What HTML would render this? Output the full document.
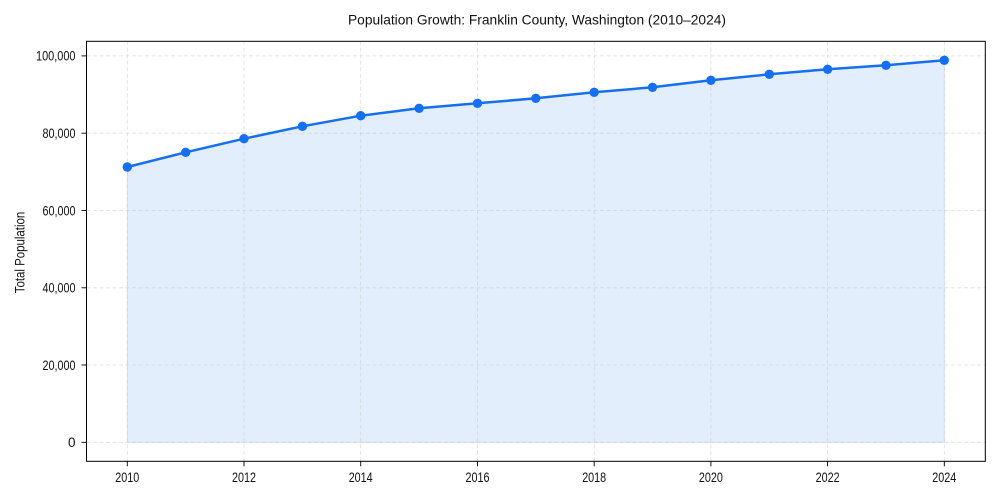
<!DOCTYPE html>
<html><head><meta charset="utf-8"><style>
html,body{margin:0;padding:0;background:#fff;}
svg{display:block;}
text{font-family:"Liberation Sans",Arial,sans-serif;fill:#111;}
</style></head><body>
<svg width="1000" height="500" viewBox="0 0 1000 500" xmlns="http://www.w3.org/2000/svg">
<rect width="1000" height="500" fill="#fff"/>
<polygon fill="#e3eefd" stroke="#cddcf0" stroke-width="0.8" points="127.3,167 185.7,152.3 244,138.7 302.4,126.3 360.7,115.7 419.1,108.3 477.5,103.3 535.8,98.3 594.2,92.3 652.5,87.3 710.9,80.3 769.3,74.3 827.6,69.3 886,65.3 944.3,60.3 944.3,442.3 127.3,442.3"/>
<g stroke="#c8c8c8" stroke-opacity="0.6" stroke-width="0.8" stroke-dasharray="4,2.5" fill="none">
<line x1="86.5" x2="985.3" y1="442.3" y2="442.3"/>
<line x1="86.5" x2="985.3" y1="365" y2="365"/>
<line x1="86.5" x2="985.3" y1="287.8" y2="287.8"/>
<line x1="86.5" x2="985.3" y1="210.5" y2="210.5"/>
<line x1="86.5" x2="985.3" y1="133.2" y2="133.2"/>
<line x1="86.5" x2="985.3" y1="55.9" y2="55.9"/>
<line y1="41.3" y2="461.3" x1="127.3" x2="127.3"/>
<line y1="41.3" y2="461.3" x1="244" x2="244"/>
<line y1="41.3" y2="461.3" x1="360.7" x2="360.7"/>
<line y1="41.3" y2="461.3" x1="477.5" x2="477.5"/>
<line y1="41.3" y2="461.3" x1="594.2" x2="594.2"/>
<line y1="41.3" y2="461.3" x1="710.9" x2="710.9"/>
<line y1="41.3" y2="461.3" x1="827.6" x2="827.6"/>
<line y1="41.3" y2="461.3" x1="944.3" x2="944.3"/>
</g>
<polyline fill="none" stroke="#1670ec" stroke-width="2.5" stroke-linejoin="round" points="127.3,167 185.7,152.3 244,138.7 302.4,126.3 360.7,115.7 419.1,108.3 477.5,103.3 535.8,98.3 594.2,92.3 652.5,87.3 710.9,80.3 769.3,74.3 827.6,69.3 886,65.3 944.3,60.3"/>
<g fill="#136ff5">
<circle cx="127.3" cy="167" r="4.7"/>
<circle cx="185.7" cy="152.3" r="4.7"/>
<circle cx="244" cy="138.7" r="4.7"/>
<circle cx="302.4" cy="126.3" r="4.7"/>
<circle cx="360.7" cy="115.7" r="4.7"/>
<circle cx="419.1" cy="108.3" r="4.7"/>
<circle cx="477.5" cy="103.3" r="4.7"/>
<circle cx="535.8" cy="98.3" r="4.7"/>
<circle cx="594.2" cy="92.3" r="4.7"/>
<circle cx="652.5" cy="87.3" r="4.7"/>
<circle cx="710.9" cy="80.3" r="4.7"/>
<circle cx="769.3" cy="74.3" r="4.7"/>
<circle cx="827.6" cy="69.3" r="4.7"/>
<circle cx="886" cy="65.3" r="4.7"/>
<circle cx="944.3" cy="60.3" r="4.7"/>
</g>
<rect x="86.5" y="41.3" width="898.8" height="420" fill="none" stroke="#000" stroke-width="1"/>
<g stroke="#000" stroke-width="0.9">
<line x1="81.5" x2="86.5" y1="442.3" y2="442.3"/>
<line x1="81.5" x2="86.5" y1="365" y2="365"/>
<line x1="81.5" x2="86.5" y1="287.8" y2="287.8"/>
<line x1="81.5" x2="86.5" y1="210.5" y2="210.5"/>
<line x1="81.5" x2="86.5" y1="133.2" y2="133.2"/>
<line x1="81.5" x2="86.5" y1="55.9" y2="55.9"/>
<line y1="461.3" y2="466.3" x1="127.3" x2="127.3"/>
<line y1="461.3" y2="466.3" x1="244" x2="244"/>
<line y1="461.3" y2="466.3" x1="360.7" x2="360.7"/>
<line y1="461.3" y2="466.3" x1="477.5" x2="477.5"/>
<line y1="461.3" y2="466.3" x1="594.2" x2="594.2"/>
<line y1="461.3" y2="466.3" x1="710.9" x2="710.9"/>
<line y1="461.3" y2="466.3" x1="827.6" x2="827.6"/>
<line y1="461.3" y2="466.3" x1="944.3" x2="944.3"/>
</g>
<g font-size="13.5" text-anchor="end">
<text x="75.5" y="447">0</text>
<text x="75.5" y="369.8" textLength="33" lengthAdjust="spacingAndGlyphs">20,000</text>
<text x="75.5" y="292.6" textLength="33" lengthAdjust="spacingAndGlyphs">40,000</text>
<text x="75.5" y="215.3" textLength="33" lengthAdjust="spacingAndGlyphs">60,000</text>
<text x="75.5" y="138" textLength="33" lengthAdjust="spacingAndGlyphs">80,000</text>
<text x="75.5" y="60.7" textLength="39.5" lengthAdjust="spacingAndGlyphs">100,000</text>
</g>
<g font-size="13.5" text-anchor="middle">
<text x="127.3" y="481.8" textLength="24" lengthAdjust="spacingAndGlyphs">2010</text>
<text x="244" y="481.8" textLength="24" lengthAdjust="spacingAndGlyphs">2012</text>
<text x="360.7" y="481.8" textLength="24" lengthAdjust="spacingAndGlyphs">2014</text>
<text x="477.5" y="481.8" textLength="24" lengthAdjust="spacingAndGlyphs">2016</text>
<text x="594.2" y="481.8" textLength="24" lengthAdjust="spacingAndGlyphs">2018</text>
<text x="710.9" y="481.8" textLength="24" lengthAdjust="spacingAndGlyphs">2020</text>
<text x="827.6" y="481.8" textLength="24" lengthAdjust="spacingAndGlyphs">2022</text>
<text x="944.3" y="481.8" textLength="24" lengthAdjust="spacingAndGlyphs">2024</text>
</g>
<text transform="translate(24.5,252.5) rotate(-90)" font-size="13.5" text-anchor="middle" textLength="81.5" lengthAdjust="spacingAndGlyphs">Total Population</text>
<text x="537" y="24.5" font-size="14" text-anchor="middle" textLength="378" lengthAdjust="spacingAndGlyphs">Population Growth: Franklin County, Washington (2010–2024)</text>
</svg>
</body></html>
